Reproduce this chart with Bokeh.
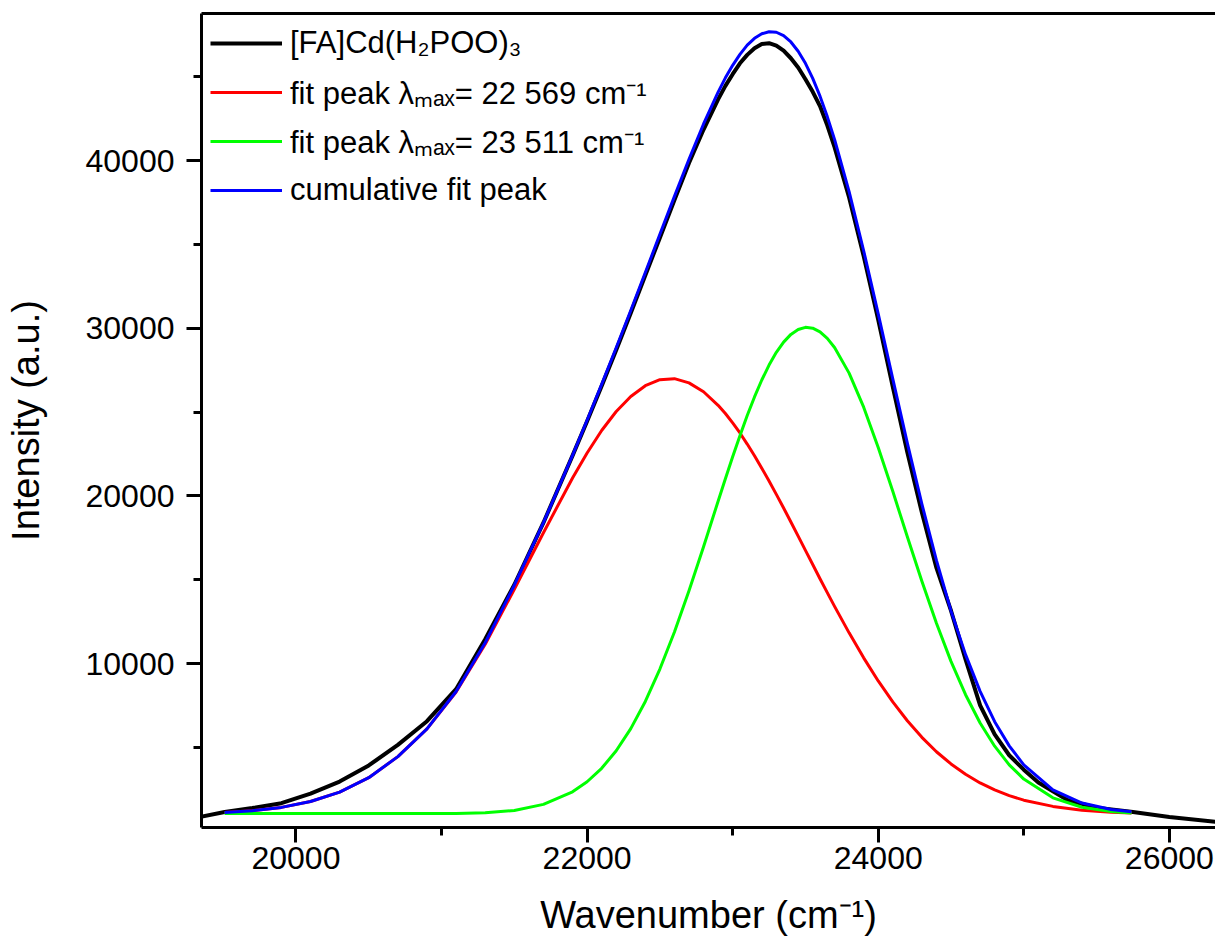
from bokeh.plotting import figure
from bokeh.models import Range1d, SingleIntervalTicker, LinearAxis, FixedTicker, Legend, LegendItem
from bokeh.embed import file_html
from bokeh.resources import INLINE

FONT = "Liberation Sans"

# fit curves (shared wavenumber grid)
x_fit = [19510, 19700, 19900, 20100, 20300, 20500, 20700, 20900, 21100, 21300,
         21500, 21700, 21900, 22000, 22100, 22200, 22300, 22400, 22500, 22600,
         22700, 22800, 22900, 22950, 23000, 23050, 23100, 23150, 23200, 23250,
         23300, 23350, 23400, 23450, 23500, 23550, 23600, 23650,
         23700, 23800, 23900, 24000, 24100, 24200, 24300, 24400, 24500, 24600,
         24700, 24800, 24900, 25000, 25200, 25400, 25600, 25740]
red_fit = [1120, 1220, 1420, 1770, 2330, 3190, 4450, 6100, 8300, 11150,
           14430, 17800, 21070, 22560, 23900, 25030, 25930, 26570, 26930, 26990,
           26740, 26210, 25400, 24910, 24350, 23750, 23090, 22390, 21650, 20890,
           20090, 19280, 18440, 17600, 16750, 15910, 15060, 14230,
           13410, 11830, 10340, 8960, 7710, 6590, 5600, 4740, 4010, 3400,
           2880, 2460, 2120, 1850, 1480, 1250, 1130, 1080]
green_fit = [1050, 1050, 1050, 1050, 1050, 1050, 1050, 1050, 1060, 1100,
             1240, 1600, 2350, 2950, 3750, 4800, 6120, 7740, 9670, 11880,
             14340, 16970, 19680, 21020, 22330, 23590, 24790, 25900, 26910, 27800,
             28560, 29170, 29630, 29920, 30050, 30000, 29780, 29390,
             28850, 27320, 25290, 22890, 20270, 17560, 14910, 12400, 10130, 8140,
             6450, 5070, 3960, 3110, 1990, 1430, 1170, 1080]
cum_fit = [1120, 1220, 1420, 1770, 2330, 3190, 4450, 6100, 8330, 11240,
           14670, 18400, 22420, 24510, 26650, 28830, 31060, 33320, 35600, 37860,
           40080, 42180, 44080, 44930, 45680, 46330, 46880, 47290, 47560, 47680,
           47650, 47450, 47070, 46520, 45800, 44900, 43840, 42620,
           41260, 38140, 34620, 30850, 26980, 23150, 19510, 16150, 13140, 10530,
           8340, 6530, 5090, 3960, 2470, 1680, 1290, 1160]

# measured spectrum
x_meas = [19340, 19510, 19700, 19900, 20100, 20300, 20500, 20700, 20900, 21100,
          21300, 21500, 21700, 21900, 22000, 22100, 22200, 22300, 22400, 22500,
          22600, 22700, 22800, 22900, 22950, 23000, 23050, 23100, 23150, 23200,
          23250, 23300, 23350, 23400, 23450, 23500, 23550, 23600, 23650,
          23700, 23800, 23900, 24000, 24100, 24200, 24300, 24400, 24500,
          24600, 24700, 24800, 24900, 25000, 25100, 25200, 25300, 25500, 25750,
          26000, 26330]
y_meas = [850, 1150, 1380, 1670, 2240, 2960, 3920, 5150, 6560, 8470,
          11450, 14700, 18400, 22400, 24450, 26550, 28700, 30900, 33150, 35400,
          37650, 39850, 41850, 43650, 44450, 45150, 45800, 46300, 46700, 46950,
          47000, 46850, 46550, 46100, 45550, 44850, 44100, 43250, 42100,
          40800, 37800, 34300, 30500, 26500, 22600, 19000, 15700, 13150,
          10250, 7500, 5770, 4530, 3670, 2900, 2380, 1860, 1400, 1140,
          850, 550]

labels = ["[FA]Cd(H\u2082POO)\u2083",
          "fit peak \u03bb\u2098\u2090\u2093= 22 569 cm\u207b\u00b9",
          "fit peak \u03bb\u2098\u2090\u2093= 23 511 cm\u207b\u00b9",
          "cumulative fit peak"]
x_title = "Wavenumber (cm\u207b\u00b9)"
y_title = "Intensity (a.u.)"

p = figure(width=1215, height=951, output_backend="svg", toolbar_location=None,
           x_range=Range1d(19351, 26317), y_range=Range1d(221, 48769),
           x_axis_type=None, y_axis_type=None,
           min_border_left=201, min_border_right=0, min_border_top=13, min_border_bottom=124)
p.outline_line_color = None
p.grid.visible = False
p.background_fill_color = "white"
p.border_fill_color = "white"

xaxis = LinearAxis(ticker=SingleIntervalTicker(interval=2000, num_minor_ticks=2), axis_label=x_title)
yaxis = LinearAxis(ticker=SingleIntervalTicker(interval=10000, num_minor_ticks=2), axis_label=y_title)
for ax in (xaxis, yaxis):
    ax.axis_line_width = 3
    ax.axis_line_color = "black"
    ax.major_tick_line_width = 3
    ax.minor_tick_line_width = 3
    ax.major_tick_line_color = "black"
    ax.minor_tick_line_color = "black"
    ax.major_tick_in = 0
    ax.major_tick_out = 15
    ax.minor_tick_in = 0
    ax.minor_tick_out = 8
    ax.major_label_text_font = FONT
    ax.major_label_text_font_size = "32px"
    ax.major_label_text_color = "black"
    ax.axis_label_text_font = FONT
    ax.axis_label_text_font_size = "38px"
    ax.axis_label_text_font_style = "normal"
    ax.axis_label_text_color = "black"
xaxis.major_label_standoff = 4
xaxis.axis_label_standoff = 22
yaxis.major_label_standoff = 12
yaxis.axis_label_standoff = 36

top = LinearAxis(ticker=FixedTicker(ticks=[]), axis_line_width=3, axis_line_color="black",
                 major_tick_out=0, major_tick_in=0, minor_tick_out=0, minor_tick_in=0,
                 major_label_standoff=0, major_label_text_font_size="0px")

p.add_layout(xaxis, "below")
p.add_layout(yaxis, "left")
p.add_layout(top, "above")

r0 = p.line(x_meas, y_meas, line_color="#000000", line_width=4, line_join="round")
r1 = p.line(x_fit, red_fit, line_color="#FF0000", line_width=3, line_join="round")
r2 = p.line(x_fit, green_fit, line_color="#00FF00", line_width=3, line_join="round")
r3 = p.line(x_fit, cum_fit, line_color="#0000FF", line_width=3, line_join="round")

legend = Legend(items=[LegendItem(label=labels[0], renderers=[r0]),
                       LegendItem(label=labels[1], renderers=[r1]),
                       LegendItem(label=labels[2], renderers=[r2]),
                       LegendItem(label=labels[3], renderers=[r3])],
                location=(9, 613), margin=0, padding=0, spacing=1,
                glyph_width=72, glyph_height=48, label_height=48, label_standoff=8,
                label_text_font=FONT, label_text_font_size="31px", label_text_color="black",
                border_line_color=None, background_fill_alpha=0)
p.add_layout(legend)

open("out.html", "w").write(file_html(p, INLINE))
